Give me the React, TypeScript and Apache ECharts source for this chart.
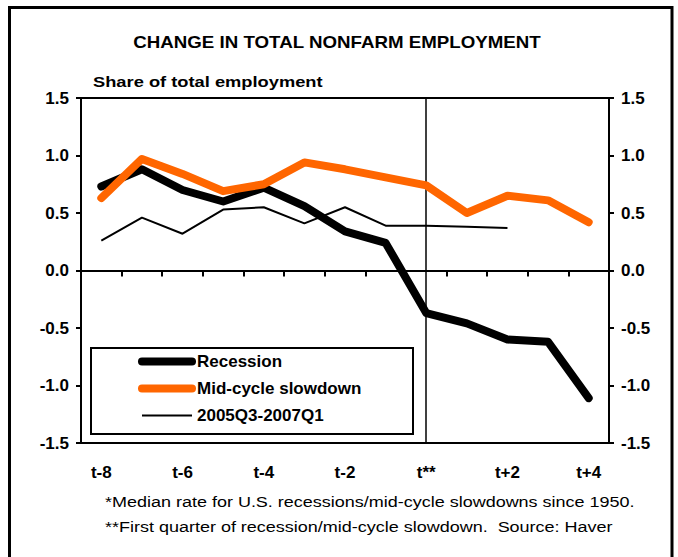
import React, { useEffect, useRef } from "react";
import * as echarts from "echarts";

const categories = ["t-8", "t-7", "t-6", "t-5", "t-4", "t-3", "t-2", "t-1", "t**", "t+1", "t+2", "t+3", "t+4"];
const recession = [0.73, 0.88, 0.7, 0.6, 0.72, 0.56, 0.34, 0.24, -0.37, -0.46, -0.6, -0.62, -1.11];
const midCycle = [0.63, 0.97, 0.84, 0.69, 0.75, 0.94, 0.88, 0.81, 0.74, 0.5, 0.65, 0.61, 0.42];
const recent = [0.26, 0.46, 0.32, 0.53, 0.55, 0.41, 0.55, 0.39, 0.39, 0.38, 0.37, null, null];
const seriesNames = ["Recession", "Mid-cycle slowdown", "2005Q3-2007Q1"];
const yMin = -1.5;
const yMax = 1.5;
const yStep = 0.5;
const markCategory = "t**";
const titleText = "CHANGE IN TOTAL NONFARM EMPLOYMENT";
const subtitleText = "Share of total employment";
const footnotes = [
  "*Median rate for U.S. recessions/mid-cycle slowdowns since 1950.",
  "**First quarter of recession/mid-cycle slowdown.  Source: Haver",
];

const FONT = "'Liberation Sans', Arial, sans-serif";

export default function App() {
  const ref = useRef<HTMLDivElement>(null);
  useEffect(() => {
    document.body.style.margin = "0";
    if (!ref.current) return;
    const chart = echarts.init(ref.current, null, { renderer: "svg" });
    const yAxisBase = (pos: "left" | "right") => ({
      type: "value",
      position: pos,
      min: yMin,
      max: yMax,
      interval: yStep,
      axisLine: { show: true, lineStyle: { color: "#000", width: 2 } },
      axisTick: { show: true, length: 5, lineStyle: { color: "#000", width: 2 } },
      splitLine: { show: false },
      axisLabel: {
        formatter: (v: number) => v.toFixed(1),
        color: "#000",
        fontWeight: "bold",
        fontSize: 17,
        fontFamily: FONT,
        margin: 12,
      },
    });
    const labelStyle = { color: "#000", fontFamily: FONT };
    chart.setOption({
      animation: false,
      backgroundColor: "#fff",
      textStyle: { fontFamily: FONT },
      grid: {
        left: 81,
        right: 69,
        top: 98,
        bottom: 114,
        show: true,
        borderColor: "#000",
        borderWidth: 2,
        backgroundColor: "transparent",
      },
      legend: {
        orient: "vertical",
        left: 138,
        top: 353,
        padding: 0,
        itemWidth: 50,
        itemHeight: 18,
        itemGap: 10,
        data: [
          { name: seriesNames[0], lineStyle: { width: 8, cap: "round", color: "#000" } },
          { name: seriesNames[1], lineStyle: { width: 8, cap: "round", color: "#FF6600" } },
          { name: seriesNames[2], lineStyle: { width: 2, color: "#000" } },
        ],
        itemStyle: { opacity: 0 },
        textStyle: { color: "#000", fontWeight: "bold", fontSize: 17, fontFamily: FONT },
      },
      xAxis: [
        {
          type: "category",
          data: categories,
          boundaryGap: true,
          position: "bottom",
          axisLine: { onZero: true, onZeroAxisIndex: 0, lineStyle: { color: "#000", width: 2 } },
          axisTick: { show: true, length: 6, interval: 0, lineStyle: { color: "#000", width: 2 } },
          axisLabel: { show: false },
        },
        {
          type: "category",
          data: categories,
          boundaryGap: true,
          position: "bottom",
          axisLine: { onZero: false, show: true, lineStyle: { color: "#000", width: 2 } },
          axisTick: { show: false },
          axisLabel: { interval: 1, margin: 21, fontWeight: "bold", fontSize: 17, ...labelStyle },
        },
      ],
      yAxis: [yAxisBase("left"), yAxisBase("right")],
      series: [
        {
          name: seriesNames[2],
          type: "line",
          data: recent,
          symbol: "none",
          lineStyle: { color: "#000", width: 2 },
          itemStyle: { color: "#000" },
          z: 3,
        },
        {
          name: seriesNames[0],
          type: "line",
          data: recession,
          symbol: "none",
          lineStyle: { color: "#000", width: 8, cap: "round", join: "round" },
          itemStyle: { color: "#000" },
          z: 4,
          markLine: {
            silent: true,
            symbol: "none",
            label: { show: false },
            lineStyle: { color: "#000", width: 1.5, type: "solid" },
            data: [{ xAxis: markCategory }],
          },
        },
        {
          name: seriesNames[1],
          type: "line",
          data: midCycle,
          symbol: "none",
          lineStyle: { color: "#FF6600", width: 8, cap: "round", join: "round" },
          itemStyle: { color: "#FF6600" },
          z: 5,
        },
      ],
      graphic: [
        {
          type: "rect",
          shape: { x: 9.5, y: 7.5, width: 662.5, height: 700 },
          style: { fill: "none", stroke: "#000", lineWidth: 3 },
          silent: true,
        },
        {
          type: "rect",
          shape: { x: 91, y: 348, width: 322, height: 86 },
          style: { fill: "none", stroke: "#000", lineWidth: 2 },
          silent: true,
        },
        {
          type: "text",
          x: 337,
          y: 42,
          scaleX: 1.17,
          style: {
            text: titleText,
            fill: "#000",
            font: `bold 16px ${FONT}`,
            textAlign: "center",
            textVerticalAlign: "middle",
          },
        },
        {
          type: "text",
          x: 93,
          y: 82,
          scaleX: 1.22,
          style: {
            text: subtitleText,
            fill: "#000",
            font: `bold 15px ${FONT}`,
            textAlign: "left",
            textVerticalAlign: "middle",
          },
        },
        ...footnotes.map((t, i) => ({
          type: "text",
          x: 105,
          y: 502 + i * 25,
          scaleX: 1.2,
          style: {
            text: t,
            fill: "#000",
            font: `15px ${FONT}`,
            textAlign: "left",
            textVerticalAlign: "middle",
          },
        })),
      ],
    });
    return () => chart.dispose();
  }, []);
  return <div ref={ref} style={{ width: 678, height: 557 }} />;
}
